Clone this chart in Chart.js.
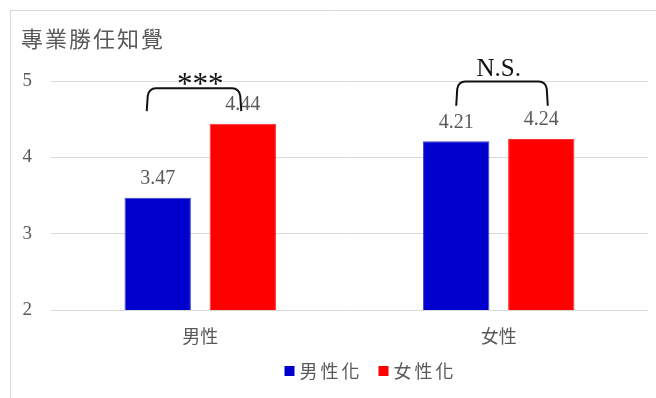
<!DOCTYPE html>
<html>
<head>
<meta charset="utf-8">
<script src="https://cdn.jsdelivr.net/npm/chart.js@4"></script>
<style>
  html, body { margin: 0; padding: 0; background: #fff; }
  #wrap { width: 656px; height: 398px; position: relative; }
</style>
</head>
<body>
<div id="wrap"><canvas id="c" width="656" height="398"></canvas></div>
<script>
// Perceived professional competence by target sex and presentation style
const chartTitle = '專業勝任知覺';
const categories = ['男性', '女性'];
const seriesNames = ['男性化', '女性化'];
const masculineValues = [3.47, 4.21];
const feminineValues = [4.44, 4.24];
const yTicks = [2, 3, 4, 5];
const significance = ['***', 'N.S.'];

const CJK = '"Noto Sans CJK TC", "Noto Sans CJK SC", sans-serif';
const SERIF = '"Liberation Serif", "DejaVu Serif", serif';
const GREY = '#595959';

// Significance bracket geometry, in value units and pixel nudges from bar centres
const bracketStyle = [
  { top: 4.905, foot: 4.605, textY: 4.935, leftNudge: -11, rightNudge: -1.5, font: '31px ' + SERIF },
  { top: 4.995, foot: 4.675, textY: 5.15, leftNudge: 0, rightNudge: 6.5, font: '25px ' + SERIF }
];

const framePlugin = {
  id: 'frame',
  beforeDraw(chart) {
    const ctx = chart.ctx;
    ctx.save();
    ctx.strokeStyle = '#d9d9d9';
    ctx.lineWidth = 1;
    ctx.beginPath();
    ctx.moveTo(10.5, chart.height);
    ctx.lineTo(10.5, 10.5);
    ctx.lineTo(chart.width, 10.5);
    ctx.stroke();
    // heading
    ctx.fillStyle = GREY;
    ctx.font = '22px ' + CJK;
    ctx.textBaseline = 'middle';
    ctx.textAlign = 'left';
    if ('letterSpacing' in ctx) ctx.letterSpacing = '2px';
    ctx.fillText(chartTitle, 21, 39);
    ctx.restore();
  }
};

// Series key under the category labels, built from the datasets
const keyPlugin = {
  id: 'seriesKey',
  afterDraw(chart) {
    const ctx = chart.ctx;
    ctx.save();
    ctx.font = '18px ' + CJK;
    ctx.textBaseline = 'middle';
    ctx.textAlign = 'left';
    if ('letterSpacing' in ctx) ctx.letterSpacing = '3px';
    const box = 10, gap = 5, between = 16;
    const items = chart.data.datasets.map(ds => ({
      text: ds.label, color: ds.backgroundColor,
      w: box + gap + ctx.measureText(ds.label).width
    }));
    const total = items.reduce((s, it) => s + it.w, 0) + between * (items.length - 1);
    const centerX = (chart.chartArea.left + chart.chartArea.right) / 2 + 21;
    const cy = chart.chartArea.bottom + 61;
    let x = centerX - total / 2;
    items.forEach(it => {
      ctx.fillStyle = it.color;
      ctx.fillRect(x, cy - box / 2, box, box);
      ctx.fillStyle = GREY;
      ctx.fillText(it.text, x + box + gap, cy);
      x += it.w + between;
    });
    ctx.restore();
  }
};

const valueLabelPlugin = {
  id: 'valueLabels',
  afterDatasetsDraw(chart) {
    const ctx = chart.ctx;
    ctx.save();
    ctx.fillStyle = GREY;
    ctx.font = '20px ' + SERIF;
    ctx.textAlign = 'center';
    ctx.textBaseline = 'middle';
    chart.data.datasets.forEach((ds, di) => {
      chart.getDatasetMeta(di).data.forEach((bar, i) => {
        ctx.fillText(ds.data[i].toFixed(2), bar.x, bar.y - 19);
      });
    });
    ctx.restore();
  }
};

const bracketPlugin = {
  id: 'brackets',
  afterDraw(chart) {
    const ctx = chart.ctx;
    const y = chart.scales.y;
    const m0 = chart.getDatasetMeta(0).data;
    const m1 = chart.getDatasetMeta(1).data;
    ctx.save();
    significance.forEach((label, i) => {
      const s = bracketStyle[i];
      const L = m0[i].x + s.leftNudge;
      const R = m1[i].x + s.rightNudge;
      const top = y.getPixelForValue(s.top);
      const foot = y.getPixelForValue(s.foot);
      const r = 8;
      ctx.strokeStyle = '#111';
      ctx.lineWidth = 2;
      ctx.beginPath();
      ctx.moveTo(L, foot);
      ctx.lineTo(L + 1, top + r);
      ctx.arcTo(L + 1.5, top, L + 1.5 + r, top, r);
      ctx.lineTo(R - 1.5 - r, top);
      ctx.arcTo(R - 1.5, top, R - 1, top + r, r);
      ctx.lineTo(R, foot);
      ctx.stroke();
      ctx.fillStyle = '#111';
      ctx.font = s.font;
      ctx.textAlign = 'center';
      ctx.textBaseline = 'middle';
      const cx = (m0[i].x + m1[i].x) / 2;
      ctx.fillText(label, cx, y.getPixelForValue(s.textY));
    });
    ctx.restore();
  }
};

new Chart(document.getElementById('c'), {
  type: 'bar',
  data: {
    labels: categories,
    datasets: [
      { label: seriesNames[0], data: masculineValues, backgroundColor: '#0000cc', borderColor: '#3a3ad6', borderWidth: 1 },
      { label: seriesNames[1], data: feminineValues, backgroundColor: '#ff0000', borderColor: '#ff3030', borderWidth: 1 }
    ]
  },
  options: {
    responsive: false,
    animation: false,
    devicePixelRatio: 1,
    categoryPercentage: 0.57,
    barPercentage: 0.78,
    layout: { padding: { top: 81, right: 8, left: 0, bottom: 50 } },
    plugins: {
      title: { display: false },
      tooltip: { enabled: false },
      legend: { display: false }
    },
    scales: {
      x: {
        grid: { display: false },
        border: { display: false },
        afterFit(scale) { scale.height = 38; },
        ticks: { color: GREY, font: { family: CJK, size: 18 }, padding: 7 }
      },
      y: {
        min: 2,
        max: 5,
        afterBuildTicks(scale) { scale.ticks = yTicks.map(v => ({ value: v })); },
        afterFit(scale) { scale.width = 51; },
        grid: { color: '#d9d9d9', drawTicks: false },
        border: { display: false },
        ticks: { color: GREY, font: { family: SERIF, size: 19 }, padding: 19 }
      }
    }
  },
  plugins: [framePlugin, valueLabelPlugin, bracketPlugin, keyPlugin]
});
</script>
</body>
</html>
